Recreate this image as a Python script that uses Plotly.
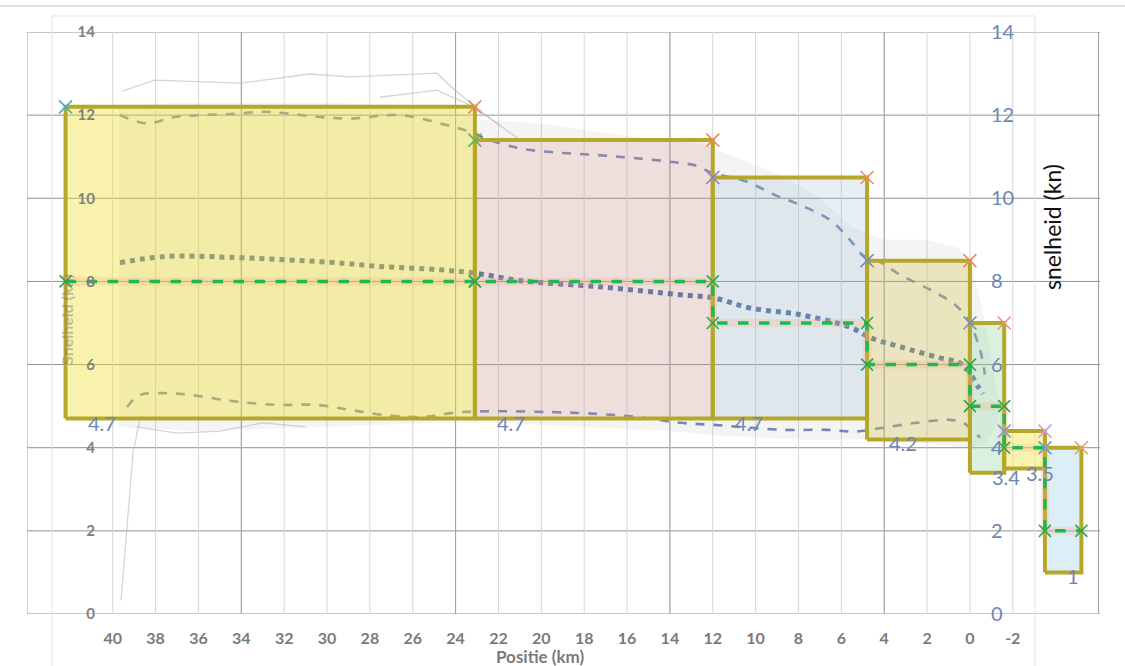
import plotly.graph_objects as go

# ---- axes -------------------------------------------------------------
x_ticks = [40, 38, 36, 34, 32, 30, 28, 26, 24, 22, 20, 18, 16, 14, 12, 10, 8, 6, 4, 2, 0, -2]
y_ticks = [0, 2, 4, 6, 8, 10, 12, 14]
section_grid = [44, 34, 24, 14, 4, -6]   # coarse grid of the section chart
x_range = [44.0, -6.07]
y_range = [0, 14]

# ---- speed statistics per position (km -> kn) --------------------------
mean_km = [39.66, 37.56, 34.53, 29.86, 27.53, 24.73, 23.09, 21.0, 17.26, 13.53, 11.94,
           10.26, 7.93, 5.6, 4.66, 3.26, 1.4, 0.46, 0.0, -0.38, -0.61]
mean_kn = [8.45, 8.6, 8.58, 8.46, 8.36, 8.28, 8.2, 8.02, 7.87, 7.68, 7.6,
           7.36, 7.2, 6.9, 6.65, 6.43, 6.16, 6.04, 5.8, 5.47, 5.3]

upper_km = [39.66, 38.4, 37.19, 35.93, 34.39, 32.99, 32.05, 30.47, 28.93, 26.6, 24.4, 23.33,
            22.4, 21.0, 19.27, 17.4, 15.72, 14.0, 12.74, 12.13, 10.4, 9.19, 7.93, 6.53,
            5.6, 4.99, 4.2, 3.26, 1.86, 0.7, 0.09, -0.47, -0.7]
upper_kn = [12.0, 11.8, 11.95, 12.0, 12.03, 12.08, 12.05, 11.96, 11.92, 12.0, 11.76, 11.6,
            11.4, 11.2, 11.1, 11.04, 10.97, 10.88, 10.78, 10.63, 10.4, 10.1, 9.84, 9.48,
            9.0, 8.63, 8.47, 8.16, 7.8, 7.44, 7.08, 6.36, 5.76]

lower_km = [39.33, 38.73, 37.47, 36.39, 34.39, 32.33, 30.47, 28.93, 27.39, 25.66, 23.65,
            19.73, 16.66, 15.07, 13.53, 11.99, 8.72, 6.67, 5.27, 4.06, 2.47, 0.93, 0.32, -0.47]
lower_kn = [4.98, 5.27, 5.31, 5.27, 5.12, 5.03, 5.03, 4.91, 4.79, 4.74, 4.86,
            4.86, 4.79, 4.71, 4.6, 4.55, 4.43, 4.43, 4.39, 4.48, 4.6, 4.67, 4.6, 4.24]

# envelope of all recorded passages
env_top_km = [39.7, 37, 30, 24.5, 23, 20, 16, 12.5, 11, 9, 7, 5.5, 4, 2, 0.5, 0, -0.5, -1.0, -1.3]
env_top_kn = [12.2, 12.3, 12.3, 12.2, 11.9, 11.8, 11.5, 11.3, 11.0, 10.6, 10.0, 9.3, 9.0, 9.0, 8.8, 8.5, 7.5, 6.2, 5.2]
env_bot_km = [39.7, 36, 30, 25, 22, 18, 14, 12, 8, 5, 2, 0, -0.7, -1.3]
env_bot_kn = [4.5, 4.4, 4.5, 4.6, 4.6, 4.5, 4.4, 4.3, 4.2, 4.2, 4.1, 4.0, 4.1, 4.6]

# a few individual passages standing out from the bundle
pass_a_km = [39.57, 38.03, 34.06, 30.8, 28.93, 26.6, 24.87, 24.03, 22.4, 21.0]
pass_a_kn = [12.58, 12.84, 12.77, 12.99, 12.92, 12.97, 13.01, 12.6, 11.93, 11.4]
pass_b_km = [27.53, 24.87, 23.33, 21.93]
pass_b_kn = [12.43, 12.6, 12.24, 11.76]
pass_c_km = [39.61, 39.05, 38.73]
pass_c_kn = [0.33, 3.9, 4.67]
pass_d_km = [38.9, 37, 35, 33, 31]
pass_d_kn = [4.5, 4.35, 4.4, 4.6, 4.5]

# ---- sections ---------------------------------------------------------
sect_left = [42.2, 23.1, 12.0, 4.8, 0.0, -1.6, -3.5]
sect_right = [23.1, 12.0, 4.8, 0.0, -1.6, -3.5, -5.2]
sect_max = [12.2, 11.4, 10.5, 8.5, 7.0, 4.4, 4.0]
sect_min = [4.7, 4.7, 4.7, 4.2, 3.4, 3.5, 1.0]
sect_med = [8, 8, 7, 6, 5, 4, 2]
sect_fill = ["rgba(240,225,60,0.42)", "rgba(220,150,140,0.22)", "rgba(160,190,215,0.25)",
             "rgba(215,200,90,0.35)", "rgba(150,215,165,0.35)", "rgba(250,228,80,0.45)",
             "rgba(150,205,230,0.33)"]
tl_colors = ["#4bacc6", "#5fb35a", "#8a7fd0", "#6f8fc4", "#6f8fc4", "#7f9fd8", "#7f9fd8"]
tr_colors = ["#f08a5a", "#f08a5a", "#f08a5a", "#f08a5a", "#e9967a", "#d49ad8", "#e8a070"]

OUTLINE = "#b5a72a"
FONT = "Lato, 'Open Sans', sans-serif"

fig = go.Figure()

# bundle of passages
fig.add_trace(go.Scatter(
    x=env_top_km + env_bot_km[::-1], y=env_top_kn + env_bot_kn[::-1],
    fill="toself", fillcolor="rgba(150,150,150,0.10)", line=dict(width=0),
    mode="lines", hoverinfo="skip", showlegend=False))
for xs, ys in [(pass_a_km, pass_a_kn), (pass_b_km, pass_b_kn),
               (pass_c_km, pass_c_kn), (pass_d_km, pass_d_kn)]:
    fig.add_trace(go.Scatter(x=xs, y=ys, mode="lines",
                             line=dict(color="rgba(185,185,185,0.6)", width=1.3),
                             showlegend=False, hoverinfo="skip"))

# percentile bands and mean
for xs, ys in [(upper_km, upper_kn), (lower_km, lower_kn)]:
    fig.add_trace(go.Scatter(x=xs, y=ys, mode="lines", line_shape="spline",
                             line=dict(color="#7088b4", width=2.6, dash="dash"),
                             showlegend=False))
fig.add_trace(go.Scatter(x=mean_km, y=mean_kn, mode="lines", line_shape="spline",
                         line=dict(color="#5470a0", width=5, dash="dot"),
                         showlegend=False))

# section boxes
for i in range(len(sect_left)):
    l, r, lo, hi = sect_left[i], sect_right[i], sect_min[i], sect_max[i]
    fig.add_trace(go.Scatter(
        x=[l, l, r, r, l], y=[lo, hi, hi, lo, lo], mode="lines",
        fill="toself", fillcolor=sect_fill[i],
        line=dict(color=OUTLINE, width=4), showlegend=False))

# median per section (stepped)
med_x, med_y = [], []
for i in range(len(sect_left)):
    med_x += [sect_left[i], sect_right[i]]
    med_y += [sect_med[i], sect_med[i]]
fig.add_trace(go.Scatter(x=med_x, y=med_y, mode="lines",
                         line=dict(color="rgba(244,170,130,0.25)", width=8),
                         showlegend=False))
fig.add_trace(go.Scatter(x=med_x, y=med_y, mode="lines+markers",
                         line=dict(color="#1db954", width=3.5, dash="dash"),
                         marker=dict(symbol="x-thin", size=12,
                                     line=dict(color="#2ea84a", width=1.6)),
                         showlegend=False))

# corner markers
fig.add_trace(go.Scatter(x=sect_left, y=sect_max, mode="markers",
                         marker=dict(symbol="x-thin", size=13,
                                     line=dict(color=tl_colors, width=1.6)),
                         showlegend=False))
fig.add_trace(go.Scatter(x=sect_right, y=sect_max, mode="markers",
                         marker=dict(symbol="x-thin", size=13,
                                     line=dict(color=tr_colors, width=1.6)),
                         showlegend=False))

# axes carrying the tick labels of both speed scales
fig.add_trace(go.Scatter(x=[None], y=[None], yaxis="y2", showlegend=False))
fig.add_trace(go.Scatter(x=[None], y=[None], yaxis="y3", showlegend=False))

# minimum speed labels
for i in range(len(sect_left)):
    fig.add_annotation(x=sect_left[i], y=sect_min[i], text=f"{sect_min[i]:g}",
                       xanchor="left", yanchor="middle", xshift=20, yshift=-4,
                       showarrow=False, font=dict(family=FONT, size=20, color="#6f84b3"))

# grid
shapes = []
for v in x_ticks:
    shapes.append(dict(type="line", xref="x", yref="y", x0=v, x1=v, y0=0, y1=14,
                       line=dict(color="#d6d6da", width=1), layer="below"))
for v in section_grid:
    shapes.append(dict(type="line", xref="x", yref="y", x0=v, x1=v, y0=-0.2, y1=14,
                       line=dict(color="#9c9ca8", width=1), layer="below"))
for v in y_ticks:
    shapes.append(dict(type="line", xref="paper", yref="y", x0=0, x1=1, y0=v, y1=v,
                       line=dict(color="#909090", width=1), layer="below"))
# outer frames
shapes.append(dict(type="line", xref="paper", yref="paper", x0=-0.03, x1=1.03, y0=1.0447, y1=1.0447,
                   line=dict(color="#d4d4d4", width=1.5), layer="below"))
shapes.append(dict(type="line", xref="paper", yref="paper", x0=0.0233, x1=0.9394, y0=1.0275, y1=1.0275,
                   line=dict(color="#e2e2e2", width=1), layer="below"))
shapes.append(dict(type="line", xref="paper", yref="paper", x0=0.0233, x1=0.0233, y0=-0.1, y1=1.0275,
                   line=dict(color="#e2e2e2", width=1), layer="below"))
shapes.append(dict(type="line", xref="paper", yref="paper", x0=0.9394, x1=0.9394, y0=-0.1, y1=1.0275,
                   line=dict(color="#e2e2e2", width=1), layer="below"))

fig.update_layout(
    width=1125, height=666,
    margin=dict(l=27, r=25, t=32, b=52),
    paper_bgcolor="white", plot_bgcolor="white",
    shapes=shapes,
    xaxis=dict(range=x_range, tickvals=x_ticks, ticktext=[str(v) for v in x_ticks],
               showgrid=False, zeroline=False, showline=False, ticks="",
               ticklabelstandoff=13,
               tickfont=dict(family=FONT, size=16, color="#7a7a7a", weight="bold")),
    yaxis=dict(range=y_range, tickvals=y_ticks, showgrid=False, zeroline=False,
               showticklabels=False, showline=False, ticks=""),
    yaxis2=dict(range=y_range, tickvals=y_ticks, overlaying="y", anchor="free",
                side="right", position=0.8975, showgrid=False, zeroline=False,
                showline=False, ticks="",
                tickfont=dict(family=FONT, size=20, color="#6c86b6")),
    yaxis3=dict(range=y_range, tickvals=y_ticks, overlaying="y", anchor="free",
                side="left", position=0.0634, showgrid=False, zeroline=False,
                showline=False, ticks="",
                tickfont=dict(family=FONT, size=15, color="#7f7f7f", weight="bold")),
    annotations=list(fig.layout.annotations) + [
        dict(text="Positie (km)", xref="paper", yref="paper", x=0.4781, y=-0.0722,
             xanchor="center", yanchor="middle", showarrow=False,
             font=dict(family=FONT, size=17, color="#7a7a7a", weight="bold")),
        dict(text="snelheid (kn)", xref="paper", yref="paper", x=0.9553, y=0.6649,
             xanchor="center", yanchor="middle", textangle=-90, showarrow=False,
             font=dict(family=FONT, size=23, color="#111111")),
        dict(text="Snelheid (kn)", xref="paper", yref="paper", x=0.0373, y=0.5052,
             xanchor="center", yanchor="middle", textangle=-90, showarrow=False,
             font=dict(family=FONT, size=16, color="rgba(120,120,110,0.45)", weight="bold")),
    ],
)

fig.write_html("out.html")
